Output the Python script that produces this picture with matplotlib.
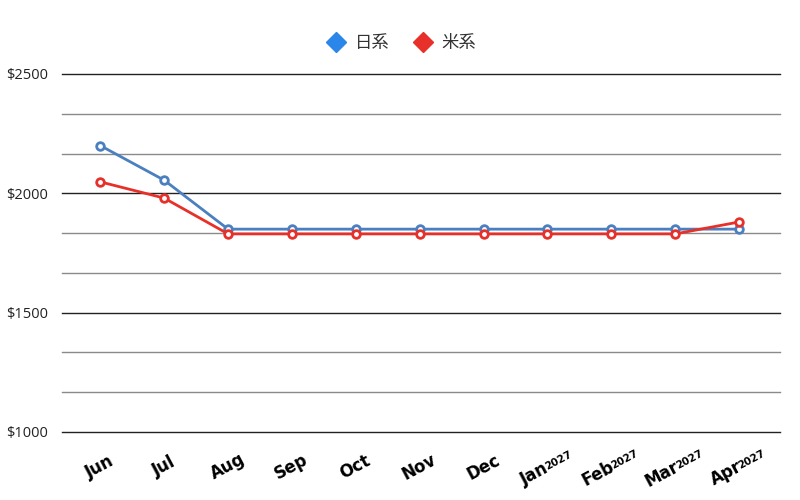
import numpy as np
import matplotlib.pyplot as plt
import matplotlib.transforms as mtrans
from matplotlib.lines import Line2D

months = ['Jun', 'Jul', 'Aug', 'Sep', 'Oct', 'Nov', 'Dec', 'Jan', 'Feb', 'Mar', 'Apr']
year_tag = ['', '', '', '', '', '', '', '2027', '2027', '2027', '2027']
jp = [2200, 2055, 1850, 1850, 1850, 1850, 1850, 1850, 1850, 1850, 1850]
us = [2048, 1980, 1830, 1830, 1830, 1830, 1830, 1830, 1830, 1830, 1880]
y_major = [1000, 1500, 2000, 2500]

plt.rcParams['font.family'] = ['Noto Sans CJK JP', 'DejaVu Sans']

fig = plt.figure(figsize=(8, 5), dpi=100)
ax = fig.add_axes([0.0775, 0.136, 0.8975, 0.716])

x = np.arange(len(months))
# grid: major dark, minor gray
for v in np.linspace(1000, 2500, 10):
    major = any(abs(v - m) < 1 for m in y_major)
    ax.axhline(v, color='#222222' if major else '#8a8a8a', lw=1.0, zorder=0, clip_on=False)

ax.plot(x, jp, color='#4a7fc0', lw=2, marker='o', ms=5.5, mfc='white', mec='#4a7fc0', mew=2, zorder=3)
ax.plot(x, us, color='#e8302a', lw=2, marker='o', ms=5.5, mfc='white', mec='#e8302a', mew=2, zorder=3)

ax.set_ylim(1000, 2500)
ax.set_xlim(-0.6, 10.64)
ax.set_yticks(y_major)
ax.set_yticklabels(['\\$%d' % v for v in y_major], fontsize=10.5, color='#222222',
                   family=['Open Sans', 'DejaVu Sans'])
ax.tick_params(axis='y', length=0, pad=10)
ax.tick_params(axis='x', length=0, pad=0)
ax.set_xticks(x)
ax.set_xticklabels([])
for s in ax.spines.values():
    s.set_visible(False)

# rotated month labels with small raised year
rot = 28
fs_m, fs_y = 12, 7.5
r = np.deg2rad(rot)
u = np.array([np.cos(r), np.sin(r)])
n = np.array([-np.sin(r), np.cos(r)])
renderer = fig.canvas.get_renderer()
for i, (m, t) in enumerate(zip(months, year_tag)):
    tmp = fig.text(0, 0, m, fontsize=fs_m, fontweight='bold', family=['DejaVu Sans'])
    wm = tmp.get_window_extent(renderer).width
    tmp.remove()
    wy = 0
    if t:
        tmp = fig.text(0, 0, t, fontsize=fs_y, fontweight='bold', family=['DejaVu Sans'])
        wy = tmp.get_window_extent(renderer).width
        tmp.remove()
    W = wm + wy
    base = mtrans.blended_transform_factory(ax.transData, ax.transAxes)
    p0 = -u * W / 2 - n * 4
    tr = mtrans.offset_copy(base, fig=fig, x=p0[0] * 72 / fig.dpi, y=p0[1] * 72 / fig.dpi, units='points')
    ax.text(i, -0.1, m, rotation=rot, rotation_mode='anchor', ha='left', va='baseline',
            fontsize=fs_m, fontweight='bold', family=['DejaVu Sans'], transform=tr, clip_on=False)
    if t:
        p1 = p0 + u * (wm - 1.5) + n * 2
        tr2 = mtrans.offset_copy(base, fig=fig, x=p1[0] * 72 / fig.dpi, y=p1[1] * 72 / fig.dpi, units='points')
        ax.text(i, -0.1, t, rotation=rot, rotation_mode='anchor', ha='left', va='baseline',
                fontsize=fs_y, fontweight='bold', family=['DejaVu Sans'], transform=tr2, clip_on=False)

handles = [Line2D([], [], ls='none', marker='D', ms=10, color='#2a86e8', label='日系'),
           Line2D([], [], ls='none', marker='D', ms=10, color='#e8302a', label='米系')]
fig.legend(handles=handles, loc='center', bbox_to_anchor=(0.497, 0.914), ncol=2, frameon=False,
           fontsize=12.5, handletextpad=0.1, columnspacing=0.9, labelcolor='#333333')

fig.savefig('out.png', dpi=100, facecolor='white')
